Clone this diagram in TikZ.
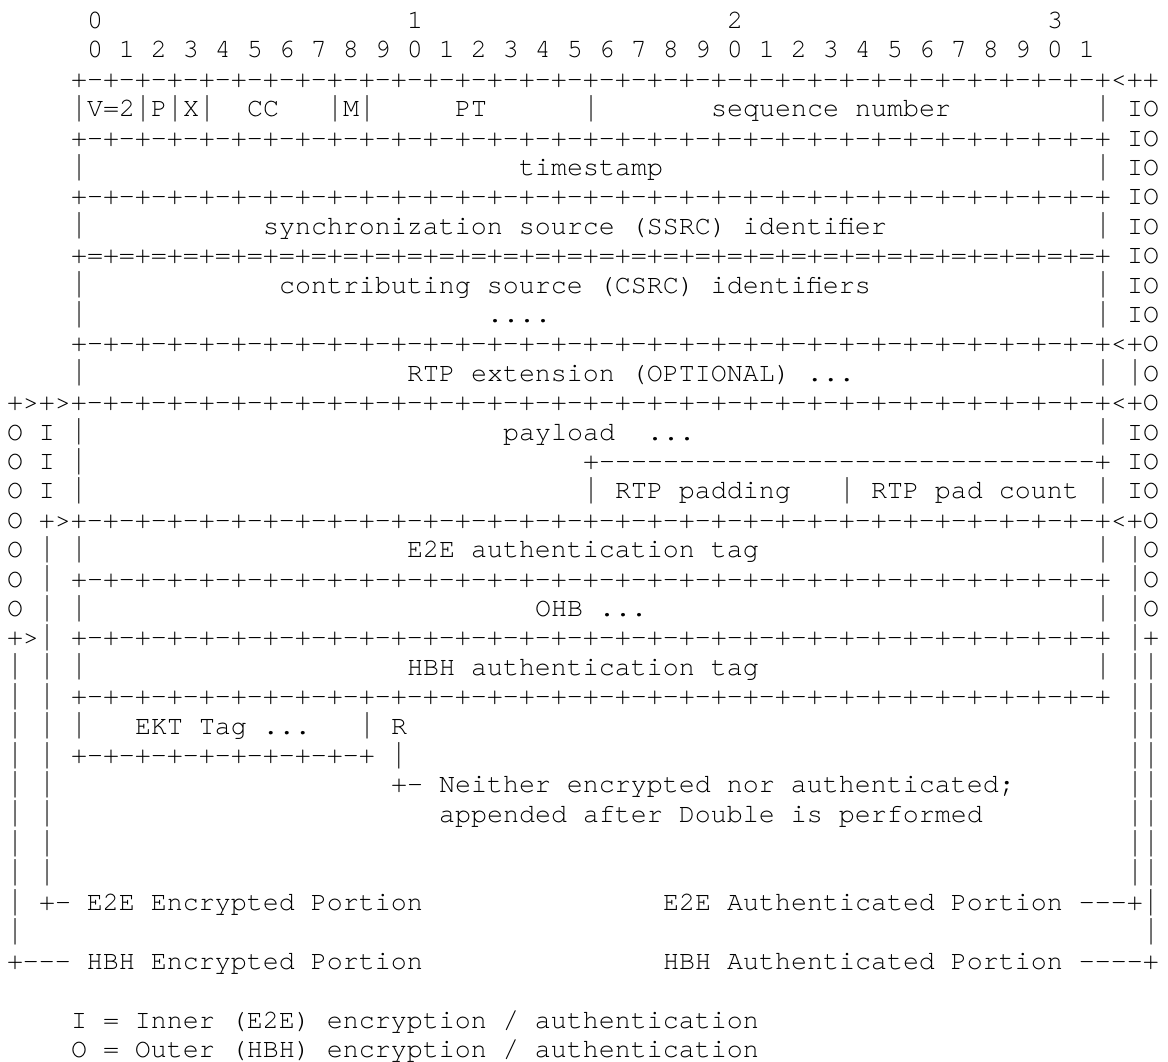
\documentclass[tikz,border=0pt]{standalone}
\usepackage{fontspec}
\usepackage{graphicx}
\setmonofont{texgyrecursor-regular.otf}
\newcommand\bd{+-+-+-+-+-+-+-+-%
+-+-+-+-+-+-+-+-%
+-+-+-+-+-+-+-+-%
+-+-+-+-+-+-+-+-%
+}
\newcommand\eqbd{+=+=+=+=+=+=+=+=%
+=+=+=+=+=+=+=+=%
+=+=+=+=+=+=+=+=%
+=+=+=+=+=+=+=+=%
+}
\newcommand\hyph{----------}
% a vertical bar as tall as a Courier one
\newcommand\vbar{\raisebox{-2.5pt}{\resizebox*{8pt}{13.2pt}{\raisebox{\depth}{|}}}}
{\catcode`\|=\active \gdef|{\vbar}}
% line, column, text
\newcommand\placetext[3]{\node[txt] (r#1c#2) at ({7+16*#2},{28.5+29.4*#1}) {#3};}
\begin{document}
\catcode`\|=\active
\begin{tikzpicture}[x=0.5pt,y=-0.5pt,
  txt/.style={anchor=base west,inner sep=0pt,outer sep=0pt,text=black,
    font=\ttfamily\fontsize{13.333pt}{14pt}\selectfont}]
\useasboundingbox (0,0) rectangle (1168,1061);
% header
\placetext{0}{5}{0}
\placetext{0}{25}{1}
\placetext{0}{45}{2}
\placetext{0}{65}{3}
\placetext{1}{5}{0 1 2 3 4 5 6 7 8 9 0 1 2 3 4 5 6 7 8 9 0 1 2 3 4 5 6 7 8 9 0 1}
\placetext{2}{4}{\bd<++}
% line 3
\placetext{3}{4}{|V=2|P|X|}
\placetext{3}{15}{CC}
\placetext{3}{20}{|M|}
\placetext{3}{28}{PT}
\placetext{3}{36}{|}
\placetext{3}{44}{sequence number}
\placetext{3}{68}{|}
\placetext{3}{70}{IO}
\placetext{4}{4}{\bd}
\placetext{4}{70}{IO}
\placetext{5}{4}{|}
\placetext{5}{32}{timestamp}
\placetext{5}{68}{|}
\placetext{5}{70}{IO}
\placetext{6}{4}{\bd}
\placetext{6}{70}{IO}
\placetext{7}{4}{|}
\placetext{7}{16}{synchronization source (SSRC) identifier}
\placetext{7}{68}{|}
\placetext{7}{70}{IO}
\placetext{8}{4}{\eqbd}
\placetext{8}{70}{IO}
\placetext{9}{4}{|}
\placetext{9}{17}{contributing source (CSRC) identifiers}
\placetext{9}{68}{|}
\placetext{9}{70}{IO}
\placetext{10}{4}{|}
\placetext{10}{30}{....}
\placetext{10}{68}{|}
\placetext{10}{70}{IO}
\placetext{11}{4}{\bd<+O}
\placetext{12}{4}{|}
\placetext{12}{25}{RTP extension (OPTIONAL) ...}
\placetext{12}{68}{|}
\placetext{12}{70}{|O}
\placetext{13}{0}{+>+>\bd<+O}
\placetext{14}{0}{O I |}
\placetext{14}{31}{payload}
\placetext{14}{40}{...}
\placetext{14}{68}{|}
\placetext{14}{70}{IO}
\placetext{15}{0}{O I |}
\placetext{15}{36}{+\hyph\hyph\hyph-+}
\placetext{15}{70}{IO}
\placetext{16}{0}{O I |}
\placetext{16}{36}{| RTP padding}
\placetext{16}{52}{| RTP pad count |}
\placetext{16}{70}{IO}
\placetext{17}{0}{O +>\bd<+O}
\placetext{18}{0}{O | |}
\placetext{18}{25}{E2E authentication tag}
\placetext{18}{68}{|}
\placetext{18}{70}{|O}
\placetext{19}{0}{O |}
\placetext{19}{4}{\bd}
\placetext{19}{70}{|O}
\placetext{20}{0}{O | |}
\placetext{20}{33}{OHB ...}
\placetext{20}{68}{|}
\placetext{20}{70}{|O}
\placetext{21}{0}{+>|}
\placetext{21}{4}{\bd}
\placetext{21}{70}{|+}
\placetext{22}{0}{| | |}
\placetext{22}{25}{HBH authentication tag}
\placetext{22}{68}{|}
\placetext{22}{70}{||}
\placetext{23}{0}{| |}
\placetext{23}{4}{\bd}
\placetext{23}{70}{||}
\placetext{24}{0}{| | |}
\placetext{24}{8}{EKT Tag ...}
\placetext{24}{22}{| R}
\placetext{24}{70}{||}
\placetext{25}{0}{| |}
\placetext{25}{4}{+-+-+-+-+-+-+-+-+-+ |}
\placetext{25}{70}{||}
\placetext{26}{0}{| |}
\placetext{26}{24}{+- Neither encrypted nor authenticated;}
\placetext{26}{70}{||}
\placetext{27}{0}{| |}
\placetext{27}{27}{appended after Double is performed}
\placetext{27}{70}{||}
\placetext{28}{0}{| |}
\placetext{28}{70}{||}
\placetext{29}{0}{| |}
\placetext{29}{70}{||}
\placetext{30}{0}{| +- E2E Encrypted Portion}
\placetext{30}{41}{E2E Authenticated Portion ---+|}
\placetext{31}{0}{|}
\placetext{31}{71}{|}
\placetext{32}{0}{+--- HBH Encrypted Portion}
\placetext{32}{41}{HBH Authenticated Portion ----+}
\placetext{34}{4}{I = Inner (E2E) encryption / authentication}
\placetext{35}{4}{O = Outer (HBH) encryption / authentication}
\end{tikzpicture}
\end{document}
